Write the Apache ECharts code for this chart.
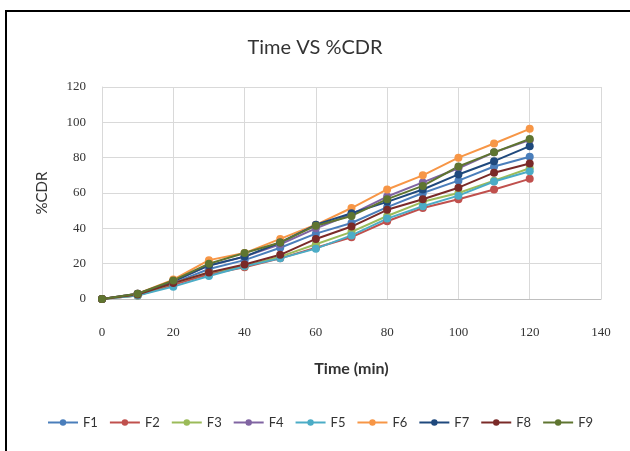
<!DOCTYPE html>
<html><head><meta charset="utf-8">
<script src="https://cdn.jsdelivr.net/npm/echarts@6/dist/echarts.min.js"></script>
<style>html,body{margin:0;padding:0;background:#fff}#c{width:630px;height:451px}</style>
</head><body><div id="c"></div>
<script>
const times = [0, 10, 20, 30, 40, 50, 60, 70, 80, 90, 100, 110, 120];
const seriesNames = ['F1','F2','F3','F4','F5','F6','F7','F8','F9'];
const F1 = [0, 2.5, 9, 17, 22, 29, 37, 43, 52, 60, 67, 75, 80.5];
const F2 = [0, 2, 8, 14, 18, 23, 29, 35, 44, 51.5, 56.5, 62, 68];
const F3 = [0, 2, 9, 15, 18.5, 24, 31, 38, 47, 55, 60, 67, 74];
const F4 = [0, 3, 10, 19, 24, 31, 40, 48, 58, 66, 74, 83, 90];
const F5 = [0, 2, 7, 13, 18.5, 23, 28.5, 36, 45.5, 52.5, 58.5, 66.5, 72.3];
const F6 = [0, 3, 11, 22, 26, 34, 42, 51.5, 62, 70, 80, 88, 96.3];
const F7 = [0, 3, 10, 19, 24, 32, 42, 48.5, 55, 62, 70.5, 78, 86.5];
const F8 = [0, 2.5, 9, 15, 19.5, 25, 34, 41, 50.5, 56.5, 63, 71.5, 76.7];
const F9 = [0, 3, 10.5, 20, 26, 32, 41.5, 47, 56.5, 64, 75, 83, 90.6];
const allData = [F1,F2,F3,F4,F5,F6,F7,F8,F9];
const colors = ['#4A7EBB','#C0504D','#9BBB59','#8064A2','#4BACC6','#F79646','#1F497D','#7A2A28','#5F7530'];
const sans = 'Lato, Open Sans, sans-serif';

const chart = echarts.init(document.getElementById('c'));
chart.setOption({
  animation: false,
  color: colors,
  title: {
    text: 'Time VS %CDR', left: 'center', top: 33,
    textStyle: {fontFamily: sans, fontSize: 20, fontWeight: 'normal', color: '#333'}
  },
  graphic: [{
    type: 'rect', shape: {x: 6, y: 11, width: 640, height: 460},
    style: {fill: 'none', stroke: '#000', lineWidth: 2}, z: 100, silent: true
  }],
  grid: {left: 102, right: 29, top: 87, bottom: 152},
  legend: {
    data: seriesNames, bottom: 17, left: 42, itemGap: 11, itemWidth: 30, itemHeight: 8,
    textStyle: {fontFamily: sans, fontSize: 13, color: '#333'}
  },
  xAxis: {
    type: 'value', min: 0, max: 140, interval: 20,
    name: 'Time (min)', nameLocation: 'middle', nameGap: 62,
    nameTextStyle: {fontFamily: sans, fontSize: 16, fontWeight: 'bold', color: '#333'},
    axisLine: {show: true, lineStyle: {color: '#bfbfbf'}},
    axisTick: {show: false},
    axisLabel: {fontFamily: 'Liberation Serif, DejaVu Serif, serif', fontSize: 13, color: '#333', margin: 27},
    splitLine: {show: true, lineStyle: {color: '#d9d9d9'}}
  },
  yAxis: {
    type: 'value', min: 0, max: 120, interval: 20,
    name: '%CDR', nameLocation: 'middle', nameGap: 52, nameRotate: 90,
    nameTextStyle: {fontFamily: sans, fontSize: 15, color: '#333'},
    axisLine: {show: true, lineStyle: {color: '#d9d9d9'}},
    axisTick: {show: false},
    axisLabel: {fontFamily: 'Liberation Serif, DejaVu Serif, serif', fontSize: 13, color: '#333', margin: 16},
    splitLine: {show: true, lineStyle: {color: '#d9d9d9'}}
  },
  series: seriesNames.map((n, i) => ({
    name: n, type: 'line',
    data: times.map((t, j) => [t, allData[i][j]]),
    symbol: 'circle', symbolSize: 8,
    lineStyle: {width: 2},
    itemStyle: {color: colors[i]}
  }))
});
</script>
</body></html>
